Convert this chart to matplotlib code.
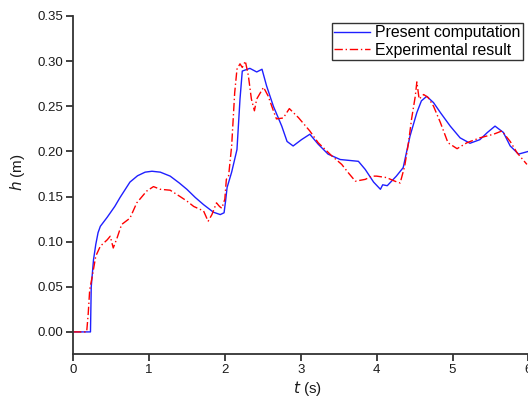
import matplotlib
matplotlib.use('Agg')
import matplotlib.pyplot as plt

plt.rcParams['font.family'] = ['Liberation Sans', 'DejaVu Sans']

# numerical free-surface height
t_comp = [0.0, 0.23, 0.24, 0.27, 0.30, 0.33, 0.36, 0.45, 0.55, 0.62, 0.75, 0.85, 0.95,
          1.04, 1.15, 1.28, 1.40, 1.50, 1.61, 1.72, 1.85, 1.94, 1.99, 2.01, 2.03, 2.09,
          2.16, 2.20, 2.23, 2.33, 2.42, 2.49, 2.55, 2.64, 2.75, 2.82, 2.90, 3.01, 3.12,
          3.23, 3.36, 3.52, 3.76, 3.85, 3.96, 4.05, 4.08, 4.14, 4.26, 4.35, 4.44, 4.53,
          4.59, 4.66, 4.75, 4.84, 4.97, 5.10, 5.23, 5.36, 5.46, 5.56, 5.67, 5.76, 5.87, 6.0]
h_comp = [0.0, 0.0, 0.05, 0.08, 0.097, 0.11, 0.117, 0.127, 0.139, 0.149, 0.166, 0.173, 0.177,
          0.178, 0.177, 0.1726, 0.165, 0.158, 0.149, 0.141, 0.1326, 0.130, 0.132, 0.145, 0.160, 0.177,
          0.202, 0.258, 0.289, 0.292, 0.288, 0.291, 0.2726, 0.250, 0.228, 0.211, 0.206, 0.213, 0.219,
          0.208, 0.197, 0.191, 0.189, 0.180, 0.166, 0.158, 0.163, 0.162, 0.1726, 0.182, 0.217, 0.243,
          0.256, 0.261, 0.254, 0.243, 0.228, 0.215, 0.209, 0.213, 0.221, 0.228, 0.221, 0.206, 0.197, 0.200]

# measured free-surface height
t_exp = [0.0, 0.18, 0.20, 0.22, 0.25, 0.30, 0.36, 0.45, 0.49, 0.53, 0.58, 0.64, 0.75, 0.84,
         0.97, 1.06, 1.15, 1.28, 1.41, 1.50, 1.59, 1.72, 1.78, 1.83, 1.89, 1.93, 1.96, 2.0,
         2.02, 2.05, 2.09, 2.13, 2.16, 2.20, 2.23, 2.27, 2.31, 2.35, 2.39, 2.42, 2.51, 2.57,
         2.64, 2.68, 2.77, 2.85, 2.97, 3.12, 3.23, 3.41, 3.54, 3.63, 3.72, 3.85, 3.94, 4.0,
         4.13, 4.24, 4.31, 4.37, 4.42, 4.46, 4.51, 4.53, 4.56, 4.62, 4.68, 4.75, 4.84, 4.94,
         5.06, 5.19, 5.36, 5.54, 5.65, 5.76, 5.85, 5.98]
h_exp = [0.0, 0.0, 0.02, 0.047, 0.06, 0.084, 0.095, 0.102, 0.106, 0.093, 0.104, 0.119, 0.126, 0.143,
         0.156, 0.161, 0.158, 0.157, 0.150, 0.145, 0.139, 0.134, 0.1226, 0.130, 0.143, 0.139, 0.137, 0.147,
         0.169, 0.173, 0.206, 0.265, 0.291, 0.297, 0.293, 0.300, 0.284, 0.258, 0.245, 0.258, 0.271, 0.2615,
         0.245, 0.236, 0.237, 0.2474, 0.2374, 0.2226, 0.2096, 0.195, 0.1856, 0.176, 0.167, 0.169, 0.1726, 0.1726,
         0.171, 0.167, 0.165, 0.1837, 0.2096, 0.2356, 0.2615, 0.277, 0.258, 0.263, 0.2596, 0.250, 0.232, 0.2096,
         0.203, 0.2096, 0.215, 0.219, 0.2226, 0.211, 0.1985, 0.1856]

x_ticks = [0, 1, 2, 3, 4, 5, 6]
y_ticks = [0.00, 0.05, 0.10, 0.15, 0.20, 0.25, 0.30, 0.35]

fig = plt.figure(figsize=(5.28, 4.0), dpi=100)
ax = fig.add_axes([0.1383, 0.1138, 0.8625, 0.8462])

ax.plot(t_comp, h_comp, color='#1f1fff', lw=1.0, label='Present computation')
ax.plot(t_exp, h_exp, color='#ff0000', lw=1.0, linestyle=(0, (6, 2, 1, 2)),
        label='Experimental result')

ax.set_xlim(0, 6)
ax.set_ylim(-0.025, 0.35)
ax.set_xticks(x_ticks)
ax.set_yticks(y_ticks)
ax.set_yticklabels(['%.2f' % v for v in y_ticks])

for side in ['top', 'right']:
    ax.spines[side].set_visible(False)
for side in ['left', 'bottom']:
    ax.spines[side].set_linewidth(1.3)
    ax.spines[side].set_color('#333333')
ax.tick_params(direction='out', length=5, width=1.3, color='#333333',
               labelsize=9.5, labelcolor='#1a1a1a', pad=2)

ax.set_xlabel('$\\it{t}$ (s)', fontsize=11, color='#1a1a1a')
ax.set_ylabel('$\\it{h}$ (m)', fontsize=11, color='#1a1a1a')
ax.xaxis.set_label_coords(0.516, -0.072)
ax.yaxis.set_label_coords(-0.102, 0.54)

leg = ax.legend(loc='upper right', bbox_to_anchor=(0.988, 0.979), borderaxespad=0,
                fontsize=11.4, frameon=True, fancybox=False, handlelength=2.3,
                handletextpad=0.3, borderpad=0.15, labelspacing=0.15)
leg.get_frame().set_edgecolor('black')
leg.get_frame().set_linewidth(1.0)

fig.savefig('out.png', dpi=100)
